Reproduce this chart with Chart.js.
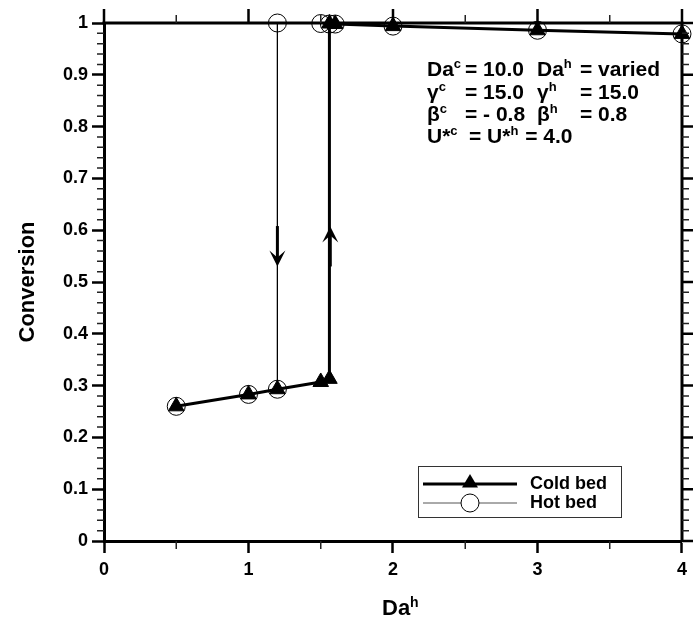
<!DOCTYPE html>
<html><head><meta charset="utf-8">
<script src="https://cdn.jsdelivr.net/npm/chart.js@4.4.1/dist/chart.umd.min.js"></script>
<style>html,body{margin:0;padding:0;background:#fff}#wrap{width:693px;height:619px;position:relative}</style>
</head><body><div id="wrap"><canvas id="c"></canvas></div>
<script>
// ---- data ----
const seriesNames = ['Cold bed', 'Hot bed'];
const coldX = [0.5, 1.0, 1.2, 1.5, 1.56, 1.56, 1.6, 2.0, 3.0, 4.0];
const coldY = [0.26, 0.283, 0.293, 0.307, 0.313, 0.999, 0.998, 0.994, 0.986, 0.979];
const hotX = [4.0, 3.0, 2.0, 1.6, 1.56, 1.5, 1.2, 1.2, 1.0, 0.5];
const hotY = [0.979, 0.986, 0.994, 0.998, 0.998, 0.999, 1.0, 0.293, 0.283, 0.26];
const xTickValues = [0, 1, 2, 3, 4];
const xTickLabels = ['0', '1', '2', '3', '4'];
const yTickValues = [0, 0.1, 0.2, 0.3, 0.4, 0.5, 0.6, 0.7, 0.8, 0.9, 1];
const yTickLabels = ['0', '0.1', '0.2', '0.3', '0.4', '0.5', '0.6', '0.7', '0.8', '0.9', '1'];
const xMinorValues = [0.5, 1.5, 2.5, 3.5];
const yMinorStep = 0.02;
const xTitle = 'Da^h';
const yTitle = 'Conversion';
// '^' marks the following character as superscript
const paramNames1 = ['Da^c', 'γ^c', 'β^c', 'U*^c'];
const paramValues1 = ['= 10.0', '= 15.0', '= - 0.8', '= U*^h = 4.0'];
const paramNames2 = ['Da^h', 'γ^h', 'β^h'];
const paramValues2 = ['= varied', '= 15.0', '= 0.8'];
// arrows: [x, fromY, toY]
const arrowDown = [1.2, 0.608, 0.53];
const arrowUp = [1.566, 0.53, 0.607];

const FONT = '"Liberation Sans", Arial, Helvetica, sans-serif';

function toPts(xs, ys) { return xs.map((x, i) => ({ x: x, y: ys[i] })); }

function drawRich(ctx, str, x, y, size) {
  let i = 0;
  while (i < str.length) {
    const ch = str[i];
    if (ch === '^' && i + 1 < str.length) {
      const s = str[i + 1];
      ctx.font = 'bold ' + Math.round(size * 0.64) + 'px ' + FONT;
      ctx.fillText(s, x, y - size * 0.36);
      x += ctx.measureText(s).width + 1;
      i += 2;
    } else {
      ctx.font = 'bold ' + size + 'px ' + FONT;
      ctx.fillText(ch, x, y);
      x += ctx.measureText(ch).width;
      i += 1;
    }
  }
  return x;
}

const decor = {
  id: 'decor',
  afterDatasetsDraw(chart) {
    const ctx = chart.ctx;
    const xs = chart.scales.x, ys = chart.scales.y;
    const a = chart.chartArea;
    ctx.save();
    ctx.strokeStyle = '#000';
    ctx.fillStyle = '#000';
    // frame top / right
    ctx.lineWidth = 3;
    ctx.beginPath();
    ctx.moveTo(a.left - 1.5, a.top); ctx.lineTo(a.right + 1.5, a.top);
    ctx.moveTo(a.right, a.top); ctx.lineTo(a.right, a.bottom);
    ctx.stroke();
    // major ticks on top and right
    ctx.lineWidth = 2.5;
    ctx.beginPath();
    xTickValues.forEach(v => { const px = xs.getPixelForValue(v); ctx.moveTo(px, a.top); ctx.lineTo(px, a.top - 14); });
    yTickValues.forEach(v => { const py = ys.getPixelForValue(v); ctx.moveTo(a.right, py); ctx.lineTo(a.right + 12, py); });
    ctx.stroke();
    // minor ticks
    ctx.lineWidth = 1.5;
    ctx.strokeStyle = '#222';
    ctx.beginPath();
    xMinorValues.forEach(v => {
      const px = xs.getPixelForValue(v);
      ctx.moveTo(px, a.bottom); ctx.lineTo(px, a.bottom + 8);
      ctx.moveTo(px, a.top); ctx.lineTo(px, a.top - 8);
    });
    for (let k = 1; k < 50; k++) {
      if (k % 5 === 0) continue;
      const py = ys.getPixelForValue(k * yMinorStep);
      ctx.moveTo(a.left, py); ctx.lineTo(a.left - 7, py);
      ctx.moveTo(a.right, py); ctx.lineTo(a.right + 7, py);
    }
    ctx.stroke();

    // arrows
    function arrow(spec) {
      const px = xs.getPixelForValue(spec[0]);
      const y0 = ys.getPixelForValue(spec[1]);
      const y1 = ys.getPixelForValue(spec[2]);
      const dir = y1 > y0 ? 1 : -1;
      ctx.strokeStyle = '#000';
      ctx.lineWidth = 3;
      ctx.beginPath();
      ctx.moveTo(px, y0); ctx.lineTo(px, y1 - dir * 6);
      ctx.stroke();
      ctx.beginPath();
      ctx.moveTo(px, y1);
      ctx.lineTo(px - 8, y1 - dir * 16);
      ctx.lineTo(px, y1 - dir * 9);
      ctx.lineTo(px + 8, y1 - dir * 16);
      ctx.closePath();
      ctx.fill();
    }
    arrow(arrowDown);
    arrow(arrowUp);

    // parameter annotation
    ctx.fillStyle = '#000';
    ctx.textBaseline = 'alphabetic';
    ctx.textAlign = 'left';
    const base = [76, 98.5, 121, 143];
    const fs = 21;
    paramNames1.forEach((s, i) => drawRich(ctx, s, 427, base[i], fs));
    paramValues1.forEach((s, i) => drawRich(ctx, s, i === 3 ? 469 : 465, base[i], fs));
    paramNames2.forEach((s, i) => drawRich(ctx, s, 537, base[i], fs));
    paramValues2.forEach((s, i) => drawRich(ctx, s, 580, base[i], fs));

    // x title
    drawRich(ctx, xTitle, 382, 615, 22);

    // legend
    ctx.lineWidth = 1;
    ctx.strokeStyle = '#333';
    ctx.strokeRect(418.5, 466.5, 203, 51);
    const ly = [484, 503];
    ctx.strokeStyle = '#000';
    ctx.lineWidth = 3;
    ctx.beginPath(); ctx.moveTo(423, ly[0]); ctx.lineTo(517, ly[0]); ctx.stroke();
    ctx.lineWidth = 1;
    ctx.strokeStyle = '#555';
    ctx.beginPath(); ctx.moveTo(423, ly[1]); ctx.lineTo(517, ly[1]); ctx.stroke();
    ctx.fillStyle = '#000';
    ctx.strokeStyle = '#000';
    ctx.beginPath(); ctx.moveTo(470, ly[0] - 10); ctx.lineTo(470 + 8, ly[0] + 3.5); ctx.lineTo(470 - 8, ly[0] + 3.5); ctx.closePath(); ctx.fill();
    ctx.fillStyle = '#fff';
    ctx.beginPath(); ctx.arc(470, ly[1], 9, 0, Math.PI * 2); ctx.fill(); ctx.stroke();
    ctx.fillStyle = '#000';
    ctx.font = 'bold 18px ' + FONT;
    ctx.textBaseline = 'middle';
    ctx.fillText(seriesNames[0], 530, ly[0]);
    ctx.fillText(seriesNames[1], 530, ly[1]);
    ctx.restore();
  }
};

new Chart(document.getElementById('c'), {
  type: 'scatter',
  data: {
    datasets: [
      {
        label: seriesNames[1],
        data: toPts(hotX, hotY),
        showLine: true,
        borderColor: '#000',
        borderWidth: 1,
        pointStyle: 'circle',
        pointRadius: 9,
        pointBackgroundColor: 'rgba(0,0,0,0)',
        pointBorderColor: '#000',
        pointBorderWidth: 1,
        tension: 0,
        clip: false
      },
      {
        label: seriesNames[0],
        data: toPts(coldX, coldY),
        showLine: true,
        borderColor: '#000',
        borderWidth: 3,
        pointStyle: 'triangle',
        pointRadius: 9,
        pointBackgroundColor: '#000',
        pointBorderColor: '#000',
        pointBorderWidth: 1,
        tension: 0,
        clip: false
      }
    ]
  },
  options: {
    responsive: true,
    maintainAspectRatio: false,
    animation: false,
    layout: { padding: { left: 0, top: 23, right: 5, bottom: 0 } },
    plugins: { legend: { display: false }, tooltip: { enabled: false } },
    scales: {
      x: {
        type: 'linear', position: 'bottom', min: 0, max: 4,
        afterBuildTicks: s => { s.ticks = xTickValues.map(v => ({ value: v })); },
        afterFit: s => { s.height = 78; },
        ticks: { callback: (v, i) => xTickLabels[i], color: '#000', font: { family: FONT, size: 18, weight: 'bold' }, padding: 6, maxRotation: 0 },
        grid: { drawOnChartArea: false, drawTicks: true, tickLength: 12, tickWidth: 2.5, tickColor: '#000' },
        border: { display: true, color: '#000', width: 3 },
        title: { display: false }
      },
      y: {
        type: 'linear', position: 'left', min: 0, max: 1,
        afterBuildTicks: s => { s.ticks = yTickValues.map(v => ({ value: v })); },
        afterFit: s => { s.width = 104; },
        ticks: { callback: (v, i) => yTickLabels[i], color: '#000', font: { family: FONT, size: 18, weight: 'bold' }, padding: 4 },
        grid: { drawOnChartArea: false, drawTicks: true, tickLength: 12, tickWidth: 2.5, tickColor: '#000' },
        border: { display: true, color: '#000', width: 3 },
        title: { display: true, text: yTitle, color: '#000', font: { family: FONT, size: 22, weight: 'bold' }, padding: { top: 15, bottom: 0 } }
      }
    }
  },
  plugins: [decor]
});
</script>
</body></html>
